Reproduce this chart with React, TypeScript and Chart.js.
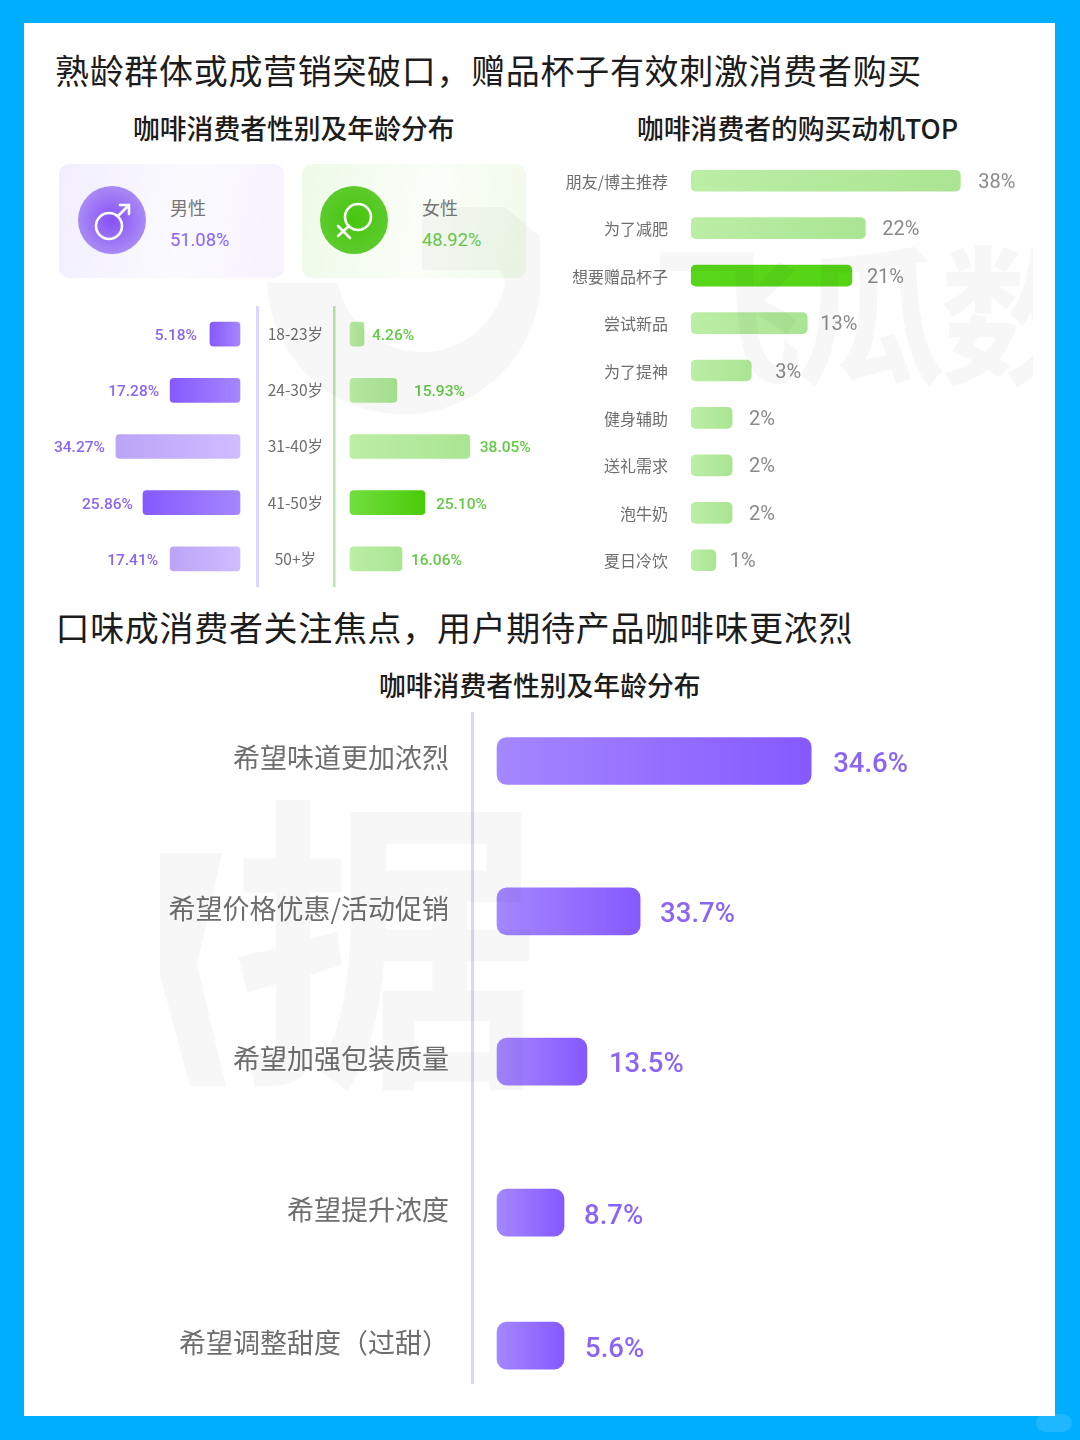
import React, { useEffect, useRef } from "react";
import { Chart, registerables } from "chart.js";

Chart.register(...registerables);

// ---- data ----
const ageGroups = ["18-23岁", "24-30岁", "31-40岁", "41-50岁", "50+岁"];
const malePercentLabels = ["5.18%", "17.28%", "34.27%", "25.86%", "17.41%"];
const femalePercentLabels = ["4.26%", "15.93%", "38.05%", "25.10%", "16.06%"];
// The source's bars are not strictly proportional to their printed labels: these are the drawn extents.
const maleDrawnExtent = [8.3, 19.3, 34.27, 26.8, 19.3];
const femaleDrawnExtent = [4.44, 14.9, 38.05, 23.8, 16.5];

const motiveLabels = ["朋友/博主推荐", "为了减肥", "想要赠品杯子", "尝试新品", "为了提神", "健身辅助", "送礼需求", "泡牛奶", "夏日冷饮"];
const motivePercentLabels = ["38%", "22%", "21%", "13%", "3%", "2%", "2%", "2%", "1%"];
const motiveDrawnExtent = [38, 24.6, 22.7, 16.4, 8.5, 5.8, 5.8, 5.8, 3.5];

const tasteLabels = ["希望味道更加浓烈", "希望价格优惠/活动促销", "希望加强包装质量", "希望提升浓度", "希望调整甜度（过甜）"];
const tastePercentLabels = ["34.6%", "33.7%", "13.5%", "8.7%", "5.6%"];
const tasteDrawnExtent = [34.6, 15.76, 9.9, 7.38, 7.38];
const tasteRow = [0, 1, 2, 3.005, 3.89];

const CJK = '"Noto Sans CJK SC", "Noto Sans", sans-serif';
const NUM = 'Roboto, "Noto Sans", sans-serif';

const P_DEEP = ["#A587FF", "#8559FF"];
const P_SOFT = ["#CFBDFF", "#BBA4F7"];
const G_SOFT = ["#BCEEA6", "#AAE592"];
const G_DEEP = ["#72DE40", "#49CC0A"];

function gradientFill(colors: string[][]) {
  return (c: any) => {
    const pair = colors[c.dataIndex] || colors[0];
    const x = c.chart.scales.x;
    const v = c.parsed ? c.parsed.x : null;
    if (!x || v == null) return pair[0];
    const x0 = x.getPixelForValue(0);
    const x1 = x.getPixelForValue(v);
    if (!Number.isFinite(x0) || !Number.isFinite(x1)) return pair[0];
    const g = c.chart.ctx.createLinearGradient(x0, 0, x1, 0);
    g.addColorStop(0, pair[0]);
    g.addColorStop(1, pair[1]);
    return g;
  };
}

function valueLabels(texts: string[], gaps: number[], font: string, color: string, side: "left" | "right" = "right", dy = 0) {
  return {
    id: "valueLabels",
    afterDatasetsDraw(chart: any) {
      const { ctx } = chart;
      const meta = chart.getDatasetMeta(0);
      ctx.save();
      ctx.font = font;
      ctx.fillStyle = color;
      ctx.textBaseline = "middle";
      ctx.textAlign = side === "right" ? "left" : "right";
      meta.data.forEach((el: any, i: number) => {
        const off = side === "right" ? gaps[i] : -gaps[i];
        ctx.fillText(texts[i], el.x + off, el.y + dy);
      });
      ctx.restore();
    },
  };
}

function BarCanvas({ box, config }: { box: { left: number; top: number; width: number; height: number }; config: () => any }) {
  const ref = useRef<HTMLCanvasElement>(null);
  useEffect(() => {
    const chart = new Chart(ref.current as HTMLCanvasElement, config());
    return () => chart.destroy();
  }, []);
  return (
    <canvas
      ref={ref}
      width={box.width}
      height={box.height}
      style={{ position: "absolute", left: box.left, top: box.top, width: box.width, height: box.height }}
    />
  );
}

const baseOptions = {
  indexAxis: "y",
  responsive: false,
  animation: false,
  layout: { padding: 0 },
  plugins: { legend: { display: false }, tooltip: { enabled: false }, title: { display: false } },
};

const hiddenX = (min: number, max: number, reverse = false) => ({
  type: "linear",
  display: false,
  min,
  max,
  reverse,
  grid: { display: false },
});

// fixes the axis band and removes the room Chart.js reserves for the first and last tick label
const fixedBand = (width: number) => (s: any) => {
  s.width = width;
  s.paddingTop = 0;
  s.paddingBottom = 0;
};

const maleConfig = () => ({
  type: "bar",
  data: {
    labels: ageGroups,
    datasets: [{
      data: maleDrawnExtent,
      barThickness: 24,
      borderRadius: 4,
      borderSkipped: false,
      backgroundColor: gradientFill([P_DEEP, P_DEEP, P_SOFT, P_DEEP, P_SOFT]),
    }],
  },
  options: {
    ...baseOptions,
    scales: {
      x: hiddenX(-4.7, 66.3, true),
      y: {
        position: "right",
        grid: { display: false, drawTicks: false },
        border: { display: true, color: "#DDD7FF", width: 3 },
        ticks: { display: false },
        afterFit: fixedBand(2),
      },
    },
  },
  plugins: [valueLabels(malePercentLabels, [13, 11, 11, 10, 12], `500 15.5px ${NUM}`, "#8B66F5", "left", 2)],
});

const femaleConfig = () => ({
  type: "bar",
  data: {
    labels: ageGroups,
    datasets: [{
      data: femaleDrawnExtent,
      barThickness: 24,
      borderRadius: 4,
      borderSkipped: false,
      backgroundColor: gradientFill([G_SOFT, G_SOFT, G_SOFT, G_DEEP, G_SOFT]),
    }],
  },
  options: {
    ...baseOptions,
    scales: {
      x: hiddenX(-5.08, 66.7),
      y: {
        grid: { display: false, drawTicks: false },
        border: { display: true, color: "#B9E6A8", width: 2.5 },
        ticks: { autoSkip: false, padding: 11, crossAlign: "center", color: "#6E6E6E", font: { family: CJK, size: 15.5 } },
        afterFit: fixedBand(77),
      },
    },
  },
  plugins: [valueLabels(femalePercentLabels, [8, 17, 10, 11, 9], `500 15.5px ${NUM}`, "#63CA45", "right", 2)],
});

const motiveConfig = () => ({
  type: "bar",
  data: {
    labels: motiveLabels,
    datasets: [{
      data: motiveDrawnExtent,
      barThickness: 21,
      borderRadius: 5,
      borderSkipped: false,
      backgroundColor: gradientFill([G_SOFT, G_SOFT, ["#58D61A", "#55D415"], G_SOFT, G_SOFT, G_SOFT, G_SOFT, G_SOFT, G_SOFT]),
    }],
  },
  options: {
    ...baseOptions,
    scales: {
      x: hiddenX(0, 51.5),
      y: {
        grid: { display: false, drawTicks: false },
        border: { display: false },
        ticks: { autoSkip: false, padding: 23, labelOffset: 1, color: "#6E6E6E", font: { family: CJK, size: 16 } },
        afterFit: fixedBand(135),
      },
    },
  },
  plugins: [valueLabels(motivePercentLabels, [18, 17, 15, 13, 24, 17, 17, 17, 14], `400 20px ${NUM}`, "#8A8A8A", "right", 2)],
});

const tasteConfig = () => ({
  type: "bar",
  data: {
    labels: tasteLabels,
    datasets: [{
      data: tasteDrawnExtent.map((v, i) => ({ x: v, y: tasteRow[i] })),
      barThickness: 47,
      borderRadius: 10,
      borderSkipped: false,
      backgroundColor: gradientFill([P_DEEP, P_DEEP, P_DEEP, P_DEEP, P_DEEP]),
    }],
  },
  options: {
    ...baseOptions,
    scales: {
      x: hiddenX(-2.755, 59.8),
      y: {
        type: "linear",
        reverse: true,
        offset: false,
        min: -0.326,
        max: 4.145,
        afterBuildTicks: (s: any) => { s.ticks = tasteRow.map((value) => ({ value })); },
        grid: { display: false, drawTicks: false },
        border: { display: true, color: "#DCD6FF", width: 3 },
        ticks: {
          autoSkip: false,
          padding: 23,
          labelOffset: -3,
          color: "#6E6E6E",
          font: { family: CJK, size: 27 },
          callback: (v: number) => tasteLabels[tasteRow.indexOf(v)],
        },
        afterFit: fixedBand(330),
      },
    },
  },
  plugins: [valueLabels(tastePercentLabels, [22, 20, 22, 20, 21], `500 27.5px ${NUM}`, "#8B66F5", "right", 4)],
});

const T = (p: { x: number; y: number; size: number; color?: string; weight?: number; font?: string; spacing?: number; children: React.ReactNode }) => (
  <div
    style={{
      position: "absolute",
      left: p.x,
      top: p.y,
      transform: "translateY(-50%)",
      fontFamily: p.font || CJK,
      fontSize: p.size,
      fontWeight: p.weight || 400,
      color: p.color || "#1c1c1c",
      letterSpacing: p.spacing || 0,
      lineHeight: 1.2,
      whiteSpace: "nowrap",
    }}
  >
    {p.children}
  </div>
);

export default function App() {
  useEffect(() => {
    document.body.style.margin = "0";
  }, []);
  return (
    <div style={{ position: "absolute", left: 0, top: 0, width: 1080, height: 1440, background: "#00AEFF", overflow: "hidden" }}>
      <div style={{ position: "absolute", left: 24, top: 23, width: 1031, height: 1393, background: "#fff" }} />

      <T x={55} y={70} size={34} spacing={0.68}>熟龄群体或成营销突破口，赠品杯子有效刺激消费者购买</T>
      <T x={133} y={128} size={26.8} weight={500}>咖啡消费者性别及年龄分布</T>
      <T x={637} y={128} size={26.8} weight={500}>咖啡消费者的购买动机TOP</T>
      <T x={55.5} y={627} size={34} spacing={0.68}>口味成消费者关注焦点，用户期待产品咖啡味更浓烈</T>
      <T x={379} y={685} size={26.8} weight={500}>咖啡消费者性别及年龄分布</T>

      {/* gender cards */}
      <div style={{ position: "absolute", left: 59, top: 164, width: 225, height: 114, borderRadius: 10, background: "linear-gradient(100deg,#F2EEFF 0%,#FBFAFF 55%,#F7F2FF 100%)" }} />
      <div style={{ position: "absolute", left: 302, top: 164, width: 224, height: 114, borderRadius: 10, background: "linear-gradient(100deg,#EEFAE8 0%,#FAFEF8 55%,#F0FBEA 100%)" }} />
      <svg width={1080} height={300} style={{ position: "absolute", left: 0, top: 0 }}>
        <defs>
          <radialGradient id="pc"><stop offset="0%" stopColor="#8650F5" /><stop offset="100%" stopColor="#A98AF5" /></radialGradient>
          <radialGradient id="gc"><stop offset="0%" stopColor="#46C60E" /><stop offset="100%" stopColor="#5CCB2C" /></radialGradient>
        </defs>
        <circle cx={112} cy={220} r={34} fill="url(#pc)" />
        <g stroke="#fff" strokeWidth={2.6} fill="none" strokeLinecap="round">
          <circle cx={109} cy={226} r={13} />
          <path d="M118,216 L129,205 M120,205 L129,205 L129,214" />
        </g>
        <circle cx={354} cy={220} r={34} fill="url(#gc)" />
        <g stroke="#fff" strokeWidth={2.6} fill="none" strokeLinecap="round">
          <circle cx={358} cy={217} r={13} />
          <path d="M349,226 L338,236 M338,226 L350,238" />
        </g>
      </svg>
      <T x={170} y={208} size={18} color="#777">男性</T>
      <T x={170} y={240} size={18.3} font={NUM} color="#8B66F5">51.08%</T>
      <T x={422} y={208} size={18} color="#777">女性</T>
      <T x={422} y={240} size={18.3} font={NUM} color="#6CCB4E">48.92%</T>

      <BarCanvas box={{ left: 0, top: 306, width: 259, height: 281 }} config={maleConfig} />
      <BarCanvas box={{ left: 257, top: 306, width: 303, height: 281 }} config={femaleConfig} />
      <BarCanvas box={{ left: 556, top: 157, width: 500, height: 427 }} config={motiveConfig} />
      <BarCanvas box={{ left: 142, top: 712, width: 898, height: 672 }} config={tasteConfig} />

      {/* faint watermark */}
      <svg width={1080} height={1440} style={{ position: "absolute", left: 0, top: 0, pointerEvents: "none" }}>
        <path fill="rgba(0,0,0,0.03)" d="M267,283 A137,137 0 0 0 540,293 L540,236 L505,207 L422,207 L422,270 L500,270 L505,283 A85,85 0 0 1 338,283 Z" />
        <path fill="rgba(0,0,0,0.03)" d="M160,853 L222,853 L197,965 L226,1086 L190,1086 L160,975 Z" />
      </svg>
      <div style={{ position: "absolute", left: 652, top: 210, width: 381, height: 195, overflow: "hidden", fontFamily: CJK, fontWeight: 700, fontSize: 150, lineHeight: "195px", color: "rgba(0,0,0,0.03)", whiteSpace: "nowrap", letterSpacing: -6, pointerEvents: "none" }}>飞瓜数</div>
      <div style={{ position: "absolute", left: 232, top: 758, height: 340, fontFamily: CJK, fontWeight: 700, fontSize: 310, lineHeight: "340px", color: "rgba(0,0,0,0.03)", pointerEvents: "none" }}>据</div>

      {/* corner badge */}
      <div style={{ position: "absolute", left: 1036, top: 1414, width: 36, height: 18, borderRadius: 9, background: "rgba(255,255,255,0.12)" }} />
    </div>
  );
}
